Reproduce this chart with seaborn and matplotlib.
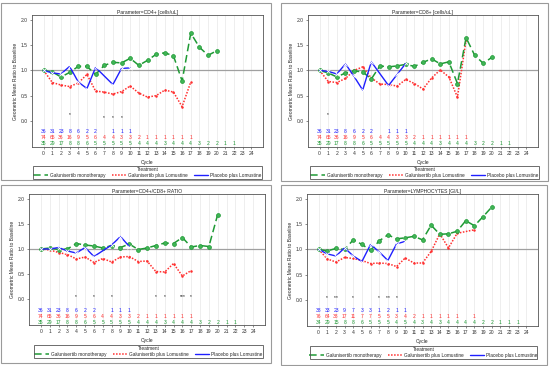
import matplotlib
matplotlib.use("Agg")
import matplotlib.pyplot as plt
from matplotlib.lines import Line2D
from matplotlib.patches import Rectangle
import seaborn as sns

sns.set_theme(style="white")
plt.rcParams['font.family'] = ['Liberation Sans', 'DejaVu Sans']

# ---- data ----
cycles = list(range(25))

titles = ["Parameter=CD4+ [cells/uL]", "Parameter=CD8+ [cells/uL]",
          "Parameter=CD4+/CD8+ RATIO", "Parameter=LYMPHOCYTES [GI/L]"]

mono_cycles = list(range(21))
cd4_mono = [1.00, 0.97, 0.87, 0.96, 1.08, 1.08, 0.92, 1.10, 1.16, 1.15, 1.24,
            1.10, 1.20, 1.32, 1.35, 1.29, 0.79, 1.74, 1.46, 1.30, 1.39]
cd8_mono = [1.00, 0.95, 0.87, 0.95, 0.99, 0.97, 0.83, 1.09, 1.07, 1.09, 1.12,
            1.08, 1.16, 1.23, 1.13, 1.17, 0.74, 1.65, 1.30, 1.14, 1.26]
ratio_mono = [1.00, 1.02, 0.99, 1.00, 1.11, 1.08, 1.06, 1.02, 1.07, 1.03, 1.10,
              0.99, 1.02, 1.07, 1.12, 1.11, 1.23, 1.04, 1.07, 1.05, 1.69]
lym_mono = [1.00, 0.97, 1.02, 1.00, 1.19, 1.10, 0.98, 1.17, 1.29, 1.21, 1.23,
            1.26, 1.19, 1.48, 1.30, 1.31, 1.36, 1.57, 1.47, 1.65, 1.84]

lom_cycles = list(range(18))
lym_lom_cycles = list(range(17)) + [18]
cd4_lom = [1.00, 0.76, 0.71, 0.68, 0.75, 0.92, 0.59, 0.57, 0.53, 0.58, 0.69,
           0.55, 0.47, 0.50, 0.61, 0.57, 0.28, 0.77]
cd8_lom = [1.00, 0.78, 0.76, 0.84, 1.00, 1.07, 0.85, 0.73, 0.72, 0.69, 0.82,
           0.74, 0.63, 0.85, 1.01, 0.87, 0.47, 1.60]
ratio_lom = [1.00, 0.98, 0.93, 0.89, 0.80, 0.84, 0.73, 0.81, 0.74, 0.84, 0.85,
             0.75, 0.76, 0.55, 0.54, 0.71, 0.46, 0.57]
lym_lom = [1.00, 0.81, 0.75, 0.84, 0.82, 0.78, 0.72, 0.73, 0.72, 0.66, 0.83,
           0.73, 0.73, 0.96, 1.31, 1.03, 1.32, 1.39]

plac_cycles = [0, 1, 2, 3, 4, 5, 6, 8, 9, 10]
lym_plac_cycles = list(range(11))
cd4_plac = [1.00, 0.95, 0.93, 1.08, 0.77, 0.64, 1.06, 0.72, 1.04, 1.05]
cd8_plac = [1.00, 0.98, 0.93, 1.13, 0.88, 0.61, 1.17, 0.70, 0.92, 1.14]
ratio_plac = [1.00, 1.00, 1.03, 0.96, 0.92, 1.03, 0.85, 1.08, 1.25, 1.05]
lym_plac = [1.00, 0.91, 0.87, 1.03, 0.87, 0.76, 1.10, 0.95, 0.78, 1.11, 1.16]

# patient counts
n_plac = [36, 31, 23, 8, 6, 2, 2, 1, 1, 1]
n_lom = [74, 65, 36, 16, 9, 5, 6, 4, 4, 3, 3, 2, 1, 1, 1, 1, 1, 1]
n_mono_cycles = list(range(23))
n_mono = [35, 29, 17, 8, 8, 6, 5, 5, 5, 5, 5, 4, 4, 4, 3, 4, 4, 4, 3, 2, 2, 1, 1]
lym_n_plac = [38, 33, 23, 9, 7, 3, 3, 1, 2, 1, 1]
lym_n_lom = [76, 64, 38, 17, 11, 7, 7, 5, 5, 3, 4, 2, 1, 1, 1, 1, 1, 1]
lym_n_mono_cycles = list(range(24))
lym_n_mono = [34, 29, 15, 8, 8, 6, 5, 5, 5, 4, 5, 4, 3, 4, 3, 4, 4, 4, 4, 2,
              2, 1, 1, 1]

# significance marks (cycle, level)
cd4_stars = [(3, 0.13), (7, 0.06), (8, 0.06), (9, 0.06)]
cd8_stars = [(1, 0.12)]
ratio_stars = [(4, 0.05), (6, 0.05), (8, 0.05), (13, 0.05), (14, 0.05),
               (15.85, 0.05), (16, 0.05), (16.15, 0.05), (17, 0.05)]
lym_stars = [(1, 0.05), (1.85, 0.05), (2.15, 0.05), (4, 0.05), (7, 0.05),
             (7.85, 0.05), (8.15, 0.05), (9, 0.05)]

GREEN = "#1f9a35"
RED = "#ff2f2f"
BLUE = "#1f1fff"

W, H = 550.0, 366.0
panels = [
    dict(title=titles[0], mono=cd4_mono, lom=cd4_lom, lomx=lom_cycles,
         plac=cd4_plac, placx=plac_cycles, stars=cd4_stars,
         np=n_plac, npx=plac_cycles, nl=n_lom, nm=n_mono, nmx=n_mono_cycles,
         ax=(32, 15, 263, 147), box=(1, 3, 271, 180), leg=(33, 166, 262, 179)),
    dict(title=titles[1], mono=cd8_mono, lom=cd8_lom, lomx=lom_cycles,
         plac=cd8_plac, placx=plac_cycles, stars=cd8_stars,
         np=n_plac, npx=plac_cycles, nl=n_lom, nm=n_mono, nmx=n_mono_cycles,
         ax=(308, 15, 538, 147), box=(281, 3, 548, 181), leg=(310, 166, 539, 179)),
    dict(title=titles[2], mono=ratio_mono, lom=ratio_lom, lomx=lom_cycles,
         plac=ratio_plac, placx=plac_cycles, stars=ratio_stars,
         np=n_plac, npx=plac_cycles, nl=n_lom, nm=n_mono, nmx=n_mono_cycles,
         ax=(29, 194, 265, 325), box=(1, 185, 271, 363), leg=(34, 345, 263, 358)),
    dict(title=titles[3], mono=lym_mono, lom=lym_lom, lomx=lym_lom_cycles,
         plac=lym_plac, placx=lym_plac_cycles, stars=lym_stars,
         np=lym_n_plac, npx=lym_plac_cycles, nl=lym_n_lom,
         nm=lym_n_mono, nmx=lym_n_mono_cycles,
         ax=(307, 194, 538, 326), box=(281, 185, 547, 365), leg=(310, 346, 537, 359)),
]

fig = plt.figure(figsize=(5.5, 3.66), dpi=100)
fig.patch.set_facecolor("white")
fs = 3.6
red_dash = (0, (1, 1))

for p in panels:
    bx0, by0, bx1, by1 = p["box"]
    fig.patches.append(Rectangle((bx0 / W, 1 - by1 / H), (bx1 - bx0) / W,
                                 (by1 - by0) / H, transform=fig.transFigure,
                                 fill=False, edgecolor="#9a9a9a", lw=0.8))
    x0, y0, x1, y1 = p["ax"]
    ax = fig.add_axes([x0 / W, 1 - y1 / H, (x1 - x0) / W, (y1 - y0) / H])
    ax.set_xlim(-1.35, 25.35)
    ax.set_ylim(-0.52, 2.1)
    for c in cycles:
        ax.axvline(c, color="#e8e8e8", lw=0.5, zorder=0)
    ax.axhline(1.0, color="#a0a0a0", lw=0.9, zorder=1)

    sns.lineplot(x=mono_cycles, y=p["mono"], ax=ax, color=GREEN, lw=1.1,
                 linestyle=(0, (5, 2.5)), marker="o", markersize=2.8,
                 markerfacecolor="#3fb455", markeredgecolor=GREEN,
                 markeredgewidth=0.5, zorder=4)
    sns.lineplot(x=p["lomx"], y=p["lom"], ax=ax, color=RED, lw=1.1,
                 linestyle=red_dash, marker="o", markersize=1.8,
                 markeredgewidth=0, zorder=3)
    sns.lineplot(x=p["placx"], y=p["plac"], ax=ax, color=BLUE, lw=1.0,
                 marker="x", markersize=2.6, markeredgewidth=0.6, zorder=5)

    for c, lvl in p["stars"]:
        ax.text(c, lvl, "*", fontsize=3.4, ha="center", va="center", color="#111111")
    for c, n in zip(p["npx"], p["np"]):
        ax.text(c, -0.22, str(n), fontsize=fs, ha="center", va="center", color=BLUE)
    lomnx = list(range(len(p["nl"])))
    if p["lomx"] == lym_lom_cycles:
        lomnx = lym_lom_cycles
    for c, n in zip(lomnx, p["nl"]):
        ax.text(c, -0.34, str(n), fontsize=fs, ha="center", va="center", color=RED)
    for c, n in zip(p["nmx"], p["nm"]):
        ax.text(c, -0.46, str(n), fontsize=fs, ha="center", va="center", color=GREEN)

    ax.set_xticks(cycles)
    ax.set_yticks([0.0, 0.5, 1.0, 1.5, 2.0])
    ax.set_yticklabels(["0.0", "0.5", "1.0", "1.5", "2.0"])
    ax.tick_params(axis="both", labelsize=fs, length=1.5, width=0.4,
                   pad=1.5, colors="#333333", left=True, bottom=True)
    ax.set_xlabel("Cycle", fontsize=fs, labelpad=3)
    ax.set_ylabel("Geometric Mean Ratio to Baseline", fontsize=fs, labelpad=2)
    ax.set_title(p["title"], fontsize=fs, pad=1)
    for s in ax.spines.values():
        s.set_color("#555555")
        s.set_linewidth(0.6)

    # legend box drawn as a frame, entries laid out inside it
    lx0, ly0, lx1, ly1 = p["leg"]
    fig.patches.append(Rectangle((lx0 / W, 1 - ly1 / H), (lx1 - lx0) / W,
                                 (ly1 - ly0) / H, transform=fig.transFigure,
                                 fill=False, edgecolor="#555555", lw=0.6))
    handles = [Line2D([], [], color=GREEN, lw=1.1, linestyle=(0, (5, 2.5))),
               Line2D([], [], color=RED, lw=1.1, linestyle=red_dash),
               Line2D([], [], color=BLUE, lw=1.0)]
    labels = ["Galunisertib monotherapy", "Galunisertib plus Lomustine",
              "Placebo plus Lomustine"]
    leg = ax.legend(handles, labels, title="Treatment", ncol=3, fontsize=3.4,
                    title_fontsize=3.4, loc="center",
                    bbox_to_anchor=((lx0 + lx1) / 2 / W, 1 - (ly0 + ly1) / 2 / H),
                    bbox_transform=fig.transFigure, frameon=False,
                    handlelength=3.0, borderpad=0.0, labelspacing=0.1,
                    handletextpad=0.4, borderaxespad=0, columnspacing=1.4)
    leg._legend_box.sep = 0.5

fig.savefig("out.png", dpi=100)
